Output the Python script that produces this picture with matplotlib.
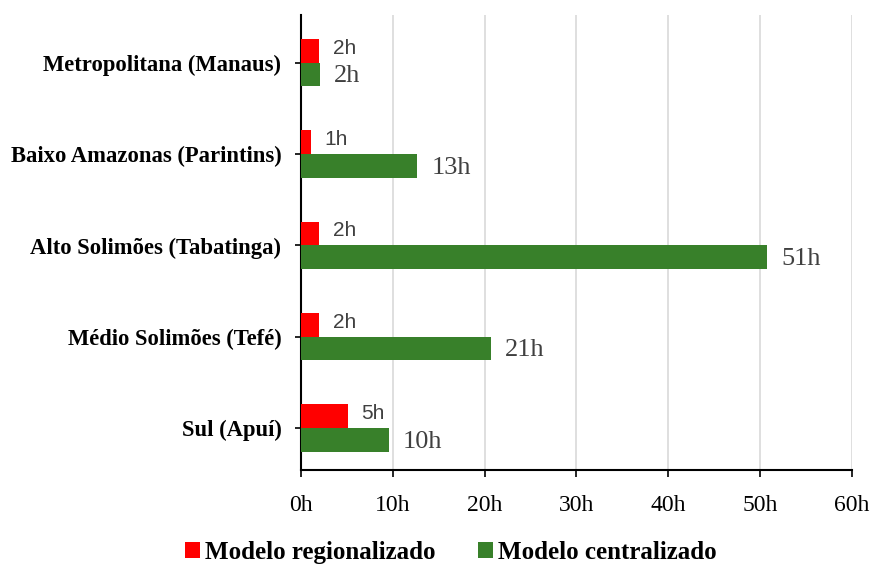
import matplotlib
matplotlib.use("Agg")
import matplotlib.pyplot as plt
import numpy as np

categories = ["Sul (Apuí)", "Médio Solimões (Tefé)", "Alto Solimões (Tabatinga)",
              "Baixo Amazonas (Parintins)", "Metropolitana (Manaus)"]
regional = [5.1, 2.0, 2.0, 1.1, 2.0]
regional_labels = ["5h", "2h", "2h", "1h", "2h"]
central = [9.6, 20.7, 50.8, 12.7, 2.05]
central_labels = ["10h", "21h", "51h", "13h", "2h"]
xticks = [0, 10, 20, 30, 40, 50, 60]
xtick_labels = ["0h", "10h", "20h", "30h", "40h", "50h", "60h"]

RED = "#ff0000"
GREEN = "#38802a"
SERIF = "Liberation Serif"
SANS = "Liberation Sans"

fig = plt.figure(figsize=(8.72, 5.65), dpi=100)
ax = fig.add_axes([0.345, 0.168, 0.632, 0.805])

y = np.arange(len(categories))
h = 0.26
ax.barh(y + h / 2, regional, height=h, color=RED, label="Modelo regionalizado", zorder=3)
ax.barh(y - h / 2, central, height=h, color=GREEN, label="Modelo centralizado", zorder=3)

for yi, v, lab in zip(y, regional, regional_labels):
    ax.annotate(lab, (v, yi + h / 2 + 0.03), xytext=(10, 0), textcoords="offset points",
                ha="left", va="center", fontsize=15, family=SANS, color="#404040")
for yi, v, lab in zip(y, central, central_labels):
    ax.annotate(lab, (v, yi - h / 2 - 0.02), xytext=(10, 0), textcoords="offset points",
                ha="left", va="center", fontsize=19, family=SERIF, color="#404040")

ax.set_xlim(0, 60)
ax.set_ylim(-0.46, 4.52)
ax.set_xticks(xticks)
ax.set_xticklabels(xtick_labels, fontsize=17, family=SERIF)
ax.set_yticks(y)
ax.set_yticklabels(categories, fontsize=16.3, family=SERIF, fontweight="bold")
ax.grid(axis="x", color="#d9d9d9", linewidth=1.2, zorder=0)
ax.set_axisbelow(True)
for s in ["top", "right"]:
    ax.spines[s].set_visible(False)
ax.spines["left"].set_linewidth(1.5)
ax.spines["bottom"].set_linewidth(1.5)
ax.tick_params(axis="x", direction="out", length=5, width=1.2, pad=13)
ax.tick_params(axis="y", direction="inout", length=8, width=1.2, pad=10)

leg = fig.legend(loc="center", bbox_to_anchor=(0.517, 0.023), ncol=2, frameon=False,
                 prop={"family": SERIF, "weight": "bold", "size": 18},
                 handlelength=0.6, handleheight=0.6, handletextpad=0.2, columnspacing=1.7,
                 borderpad=0, borderaxespad=0)

fig.savefig("out.png", dpi=100)
